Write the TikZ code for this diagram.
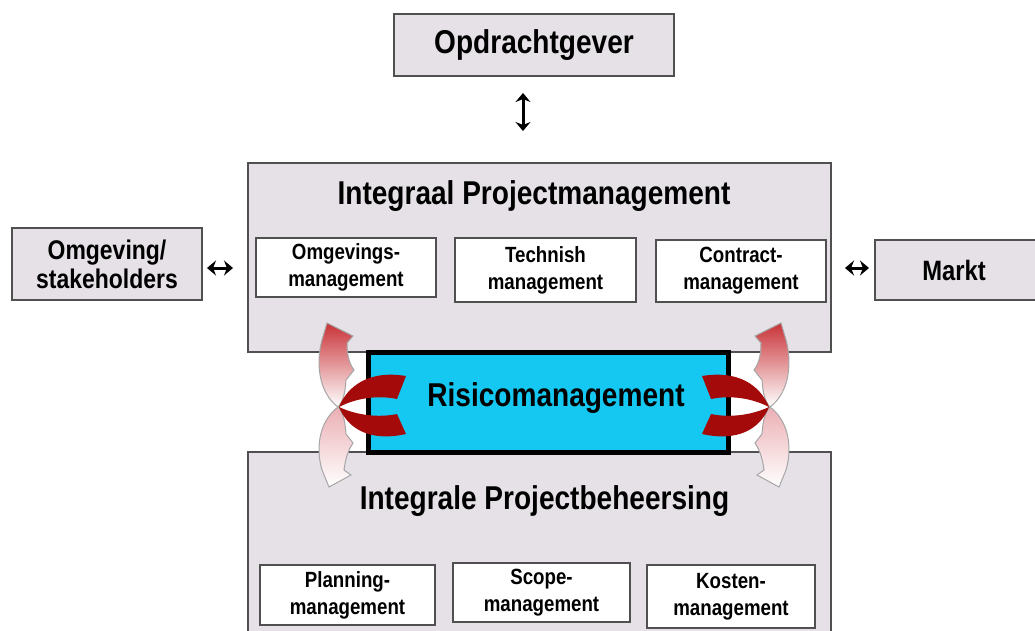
\documentclass[tikz,border=0pt]{standalone}
\usepackage{fontspec}
\setmainfont{Liberation Sans}[FakeStretch=0.85]
\usetikzlibrary{arrows.meta}
\definecolor{boxgray}{RGB}{229,225,231}
\definecolor{edgegray}{RGB}{80,80,80}
\definecolor{risico}{RGB}{20,200,242}
\definecolor{darkred}{RGB}{165,10,10}
\definecolor{arrred}{RGB}{200,50,55}
\definecolor{arrpink}{RGB}{235,175,180}
\tikzset{
  graybox/.style={draw=edgegray,fill=boxgray,line width=2pt,inner sep=0pt},
  whitebox/.style={draw=edgegray,fill=white,line width=1.8pt,inner sep=0pt,align=center,
     font=\fontsize{22}{27}\selectfont\bfseries},
  title/.style={font=\fontsize{33}{38}\selectfont\bfseries},
  sidetext/.style={font=\fontsize{28}{29}\selectfont\bfseries,align=center},
  dbl/.style={{Stealth[length=9pt,width=15pt]}-{Stealth[length=9pt,width=15pt]},line width=3pt},
  redC/.style={fill=darkred,draw=none},
  grad/.style={draw=gray!70,line width=1pt},
}
\begin{document}
\begin{tikzpicture}[x=1pt,y=-1pt]
\useasboundingbox (0,0) rectangle (1035,630);
\clip (0,0) rectangle (1035,630);
\fill[white] (0,0) rectangle (1035,630);
% boxes
\node[graybox,minimum width=280pt,minimum height=62pt,title] (opd) at (534,45) {Opdrachtgever};
\node[graybox,minimum width=583pt,minimum height=189pt] (ipm) at (539.5,257.5) {};
\node[title] (ipmt) at (534,196) {Integraal Projectmanagement};
\node[whitebox,minimum width=180pt,minimum height=59pt] (omg) at (346,267.5) {Omgevings-\\management};
\node[whitebox,minimum width=181pt,minimum height=64pt] (tech) at (545.5,270) {Technish\\management};
\node[whitebox,minimum width=170pt,minimum height=62pt] (con) at (741,271) {Contract-\\management};
\node[graybox,minimum width=190pt,minimum height=72pt,sidetext,font=\fontsize{27}{29}\selectfont\bfseries] (stake) at (107,264) {Omgeving/\\stakeholders};
\node[graybox,minimum width=170pt,minimum height=60pt,sidetext] (markt) at (960,270) {\hspace*{-12pt}Markt};
\node[graybox,minimum width=583pt,minimum height=198pt] (ipb) at (539.5,551) {};
\node[title] (ipbt) at (544.5,501) {Integrale Projectbeheersing};
\node[whitebox,minimum width=175pt,minimum height=60pt] (plan) at (347.5,595) {Planning-\\management};
\node[whitebox,minimum width=177pt,minimum height=59pt] (scope) at (541.5,592.5) {Scope-\\management};
\node[whitebox,minimum width=168pt,minimum height=63pt] (kost) at (731,596.5) {Kosten-\\management};
\node[draw=black,fill=risico,line width=5pt,minimum width=360pt,minimum height=100pt,font=\fontsize{33}{38}\selectfont\bfseries,inner sep=0pt] (ris) at (548,402) {\hspace*{16pt}\raisebox{15pt}{Risicomanagement}};
% connectors
\coordinate (v1) at (523,93);
\coordinate (v2) at (523,131);
\draw[dbl] (v1) -- (v2);
\coordinate (l1) at (207,268);
\coordinate (l2) at (233,268);
\draw[dbl] (l1) -- (l2);
\coordinate (r1) at (845,268);
\coordinate (r2) at (869,268);
\draw[dbl] (r1) -- (r2);
% gradient arrows left
\path[grad,top color=arrred,bottom color=white]
  (338,407) .. controls (318,392) and (316,362) .. (322,340) -- (327,323)
  -- (353,336) -- (347,343) .. controls (347,352) and (348,362) .. (354,370)
  -- (346,380) .. controls (345,392) and (344,400) .. (338,407) -- cycle;
\path[grad,top color=arrpink,bottom color=white]
  (338,407) .. controls (318,422) and (316,450) .. (322,470) -- (329,487)
  -- (351,475) -- (344,470) .. controls (345,462) and (347,452) .. (353,443)
  -- (346,434) .. controls (345,422) and (344,414) .. (338,407) -- cycle;
% gradient arrows right
\path[grad,top color=arrred,bottom color=white]
  (770,407) .. controls (790,392) and (792,362) .. (786,340) -- (781,323)
  -- (755,336) -- (761,343) .. controls (761,352) and (760,362) .. (754,370)
  -- (762,380) .. controls (763,392) and (764,400) .. (770,407) -- cycle;
\path[grad,top color=arrpink,bottom color=white]
  (770,407) .. controls (790,422) and (792,450) .. (786,470) -- (779,487)
  -- (757,475) -- (764,470) .. controls (763,462) and (761,452) .. (755,443)
  -- (762,434) .. controls (763,422) and (764,414) .. (770,407) -- cycle;
% red C shapes
\path[redC] (339,407) .. controls (348,385) and (370,370) .. (406,376) -- (397,399)
  .. controls (378,395) and (356,398) .. (339,407) -- cycle;
\path[redC] (339,407) .. controls (348,429) and (370,442) .. (406,434) -- (397,414)
  .. controls (378,418) and (356,415) .. (339,407) -- cycle;
\path[redC] (769,407) .. controls (760,385) and (738,370) .. (702,376) -- (711,399)
  .. controls (730,395) and (752,398) .. (769,407) -- cycle;
\path[redC] (769,407) .. controls (760,429) and (738,442) .. (702,434) -- (711,414)
  .. controls (730,418) and (752,415) .. (769,407) -- cycle;
\end{tikzpicture}
\end{document}
